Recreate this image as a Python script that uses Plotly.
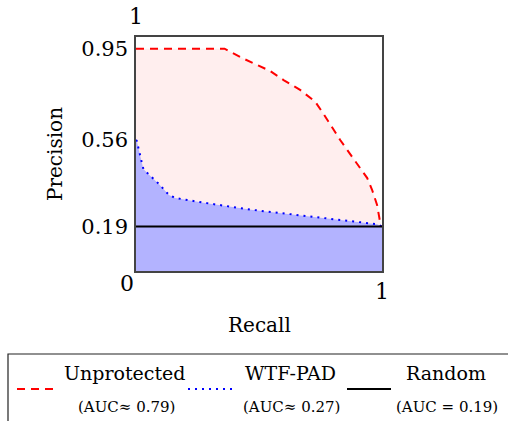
import plotly.graph_objects as go

# ---- data ----
unprot_recall = [0, 0.36, 0.44, 0.545, 0.60, 0.667, 0.728, 0.76, 0.83, 0.90, 0.94, 0.96, 0.98, 0.992, 1.0]
unprot_prec = [0.95, 0.95, 0.906, 0.855, 0.816, 0.774, 0.724, 0.675, 0.56, 0.453, 0.397, 0.346, 0.282, 0.211, 0.19]

wtf_recall = [0, 0.003, 0.023, 0.03, 0.05, 0.093, 0.134, 0.16, 0.274, 0.476, 0.98, 1.0]
wtf_prec = [0.56, 0.557, 0.466, 0.436, 0.415, 0.372, 0.325, 0.312, 0.292, 0.261, 0.2, 0.19]

random_recall = [0, 1]
random_prec = [0.19, 0.19]

y_ticks = [0.19, 0.56, 0.95]
y_ticktext = ["0.19", "0.56", "0.95"]
x_ticks = [1]
x_ticktext = ["1"]

legend_names = ["Unprotected", "WTF-PAD", "Random"]
legend_auc = ["(AUC≈ 0.79)", "(AUC≈ 0.27)", "(AUC = 0.19)"]

FONT = "DejaVu Serif"
W, H = 508, 421
L, R, T, B = 136, 382, 37, 271

def px(x):
    return (x - L) / (R - L)

def py(y):
    return (B - y) / (B - T)

fig = go.Figure()
fig.add_trace(go.Scatter(x=unprot_recall, y=unprot_prec, mode="lines", fill="tozeroy",
                         fillcolor="rgb(255,238,238)",
                         line=dict(color="rgb(255,0,0)", width=2, dash="8px,6px"),
                         showlegend=False))
fig.add_trace(go.Scatter(x=wtf_recall, y=wtf_prec, mode="lines", fill="tozeroy",
                         fillcolor="rgb(179,179,255)",
                         line=dict(color="rgb(0,0,255)", width=2, dash="2px,5px"),
                         showlegend=False))
fig.add_trace(go.Scatter(x=random_recall, y=random_prec, mode="lines",
                         line=dict(color="black", width=2),
                         showlegend=False))

fig.update_layout(
    width=W, height=H,
    margin=dict(l=L, r=W - R, t=T, b=H - B, pad=0),
    paper_bgcolor="white", plot_bgcolor="white",
    font=dict(family=FONT, color="black", size=21),
    xaxis=dict(range=[0, 1], showgrid=False, zeroline=False, showline=True, mirror=True,
               linecolor="#444", linewidth=1.5, tickvals=x_ticks, ticktext=x_ticktext,
               ticks="", tickfont=dict(family=FONT, size=22), ticklabelstandoff=0),
    yaxis=dict(range=[0, 1], showgrid=False, zeroline=False, showline=True, mirror=True,
               linecolor="#444", linewidth=1.5, tickvals=y_ticks, ticktext=y_ticktext,
               ticks="", tickfont=dict(family=FONT, size=21), ticklabelstandoff=2),
)

ann = []
ann.append(dict(x=0, y=1, xref="x", yref="y", text="1", showarrow=False,
                yanchor="bottom", yshift=6, font=dict(family=FONT, size=22)))
ann.append(dict(x=0, y=0, xref="x", yref="y", text="0", showarrow=False,
                xanchor="center", yanchor="top", xshift=-9, yshift=2, font=dict(family=FONT, size=22)))
ann.append(dict(x=px(259), y=py(325), xref="paper", yref="paper", text="Recall", showarrow=False,
                xanchor="center", yanchor="middle", font=dict(family=FONT, size=20)))
ann.append(dict(x=px(55), y=py(154), xref="paper", yref="paper", text="Precision", showarrow=False,
                xanchor="center", yanchor="middle", textangle=-90, font=dict(family=FONT, size=20)))

shapes = []
shapes.append(dict(type="rect", xref="paper", yref="paper", x0=px(8), x1=px(520), y0=py(354), y1=py(440),
                   line=dict(color="#222", width=1.2), fillcolor="rgba(0,0,0,0)"))
samples = [(17, 56, "rgb(255,0,0)", "8px,6px"), (188, 232, "rgb(0,0,255)", "2px,5px"), (347, 391, "black", "solid")]
for x0, x1, c, d in samples:
    shapes.append(dict(type="line", xref="paper", yref="paper", x0=px(x0), x1=px(x1), y0=py(389), y1=py(389),
                       line=dict(color=c, width=2, dash=d)))
centers = [125, 290, 446]
for cx, name, auc in zip(centers, legend_names, legend_auc):
    ann.append(dict(x=px(cx), y=py(373), xref="paper", yref="paper", text=name, showarrow=False,
                    xanchor="center", yanchor="middle", font=dict(family=FONT, size=19)))
    ann.append(dict(x=px(cx + 1), y=py(407), xref="paper", yref="paper", text=auc, showarrow=False,
                    xanchor="center", yanchor="middle", font=dict(family=FONT, size=15)))

fig.update_layout(annotations=ann, shapes=shapes)
fig.write_html("out.html")
